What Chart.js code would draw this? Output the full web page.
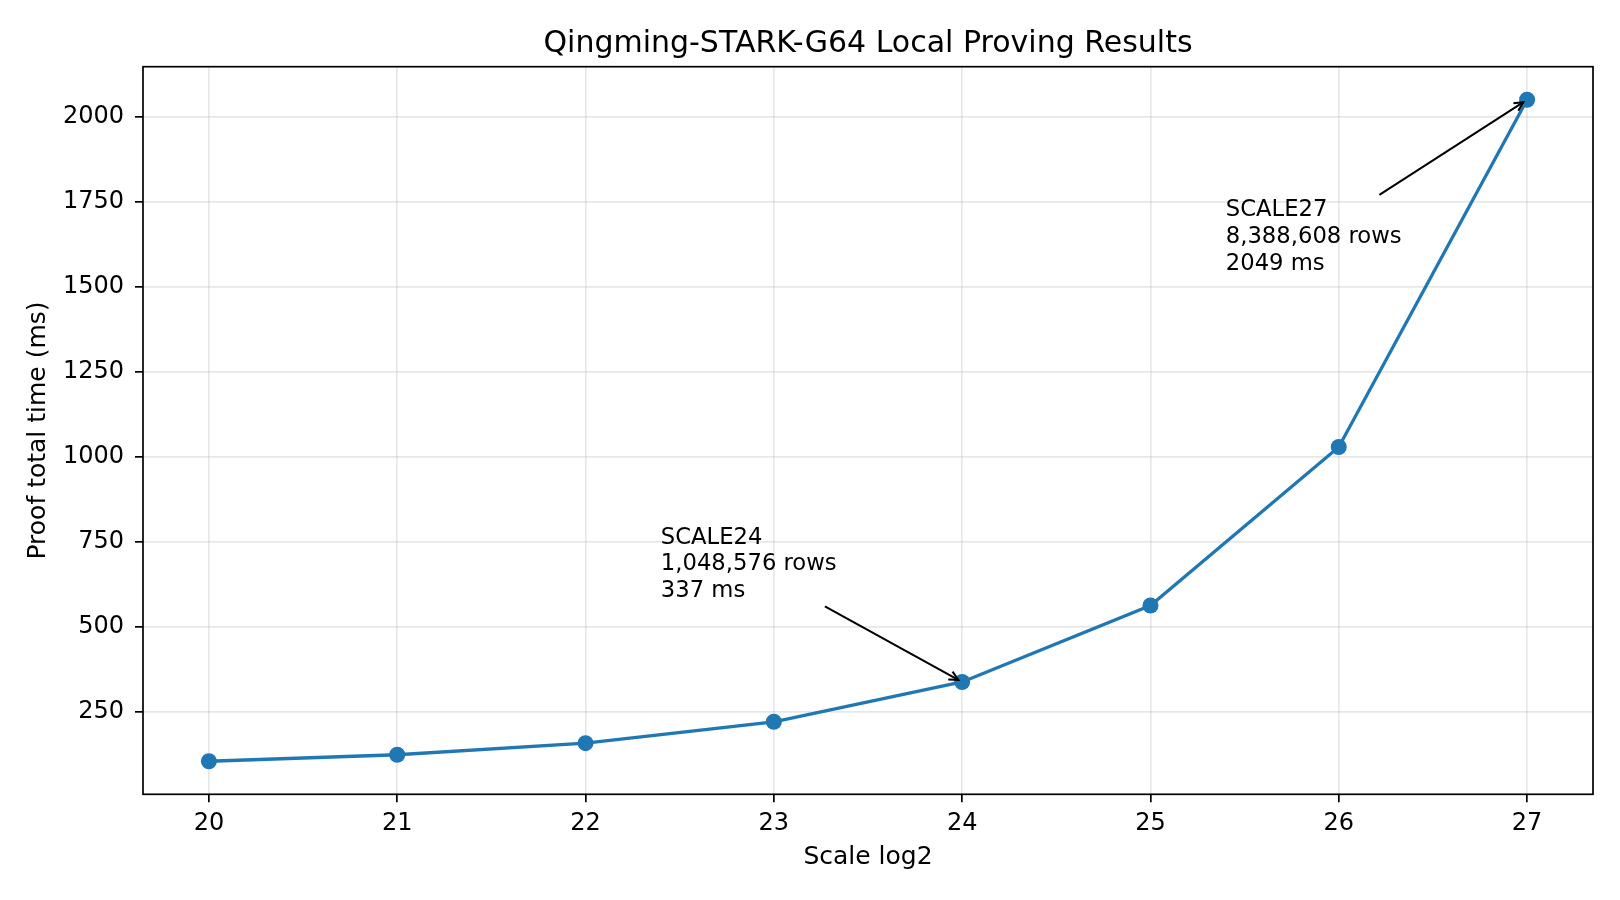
<!DOCTYPE html>
<html>
<head>
<meta charset="utf-8">
<title>Qingming-STARK-G64 Local Proving Results</title>
<script src="https://cdn.jsdelivr.net/npm/chart.js@4.4.1/dist/chart.umd.min.js"></script>
<style>
  html, body { margin: 0; padding: 0; background: #fff; }
  #wrap { width: 1620px; height: 900px; }
</style>
</head>
<body>
<div id="wrap"><canvas id="main-chart" width="1620" height="900"></canvas></div>
<script>
// data
const scaleLog2 = [20, 21, 22, 23, 24, 25, 26, 27];
const proofTimeMs = [104, 123, 157, 220, 337, 562, 1028, 2049];
const xTickValues = [20, 21, 22, 23, 24, 25, 26, 27];
const yTickValues = [250, 500, 750, 1000, 1250, 1500, 1750, 2000];
const noteScales = [24, 27];
const noteLabels = [
    ["SCALE24", "1,048,576 rows", "337 ms"],
    ["SCALE27", "8,388,608 rows", "2049 ms"]
];

const FONT = "DejaVu Sans";
const BLUE = "#1f77b4";
// where the note text sits, relative to its point (data units)
const noteOffsets = [{ dx: -1.6, dy: 250 }, { dx: -1.6, dy: -500 }];

// matplotlib style 5% margins
const padRange = (arr) => {
    let lo = Math.min(...arr), hi = Math.max(...arr);
    let m = (hi - lo) * 0.05;
    return [lo - m, hi + m];
};
const xRange = padRange(scaleLog2);
const yRange = padRange(proofTimeMs);

const drawArrow = (ctx, x0, y0, x1, y1) => {
    ctx.beginPath();
    ctx.moveTo(x0, y0);
    ctx.lineTo(x1, y1);
    ctx.stroke();
    let ang = Math.atan2(y1 - y0, x1 - x0);
    let hl = 9, hw = 4.5;
    let bx = x1 - hl * Math.cos(ang), by = y1 - hl * Math.sin(ang);
    ctx.beginPath();
    ctx.moveTo(bx + hw * Math.sin(ang), by - hw * Math.cos(ang));
    ctx.lineTo(x1, y1);
    ctx.lineTo(bx - hw * Math.sin(ang), by + hw * Math.cos(ang));
    ctx.stroke();
};

const notesAndFrame = {
    id: "notesAndFrame",
    afterDatasetsDraw(chart) {
        const ctx = chart.ctx;
        const xs = chart.scales.x, ys = chart.scales.y;
        ctx.save();
        ctx.font = "22.7px '" + FONT + "'";
        ctx.fillStyle = "#000";
        ctx.strokeStyle = "#000";
        ctx.lineWidth = 2;
        ctx.textBaseline = "alphabetic";
        ctx.textAlign = "left";
        const lh = 26.7;
        noteScales.forEach((sc, i) => {
            let idx = scaleLog2.indexOf(sc);
            let px = xs.getPixelForValue(sc), py = ys.getPixelForValue(proofTimeMs[idx]);
            let tx = xs.getPixelForValue(sc + noteOffsets[i].dx);
            let ty = ys.getPixelForValue(proofTimeMs[idx] + noteOffsets[i].dy);
            let lines = noteLabels[i];
            let w = 0;
            lines.forEach((t, k) => {
                let by = ty - lh * (lines.length - 1 - k);
                ctx.fillText(t, tx, by);
                w = Math.max(w, ctx.measureText(t).width);
            });
            // text box, grown by 2pt like matplotlib does
            let top = ty - lh * (lines.length - 1) - 17 - 2.2;
            let bot = ty + 5 + 2.2;
            let left = tx - 2.2, right = tx + w + 2.2;
            let cx = (tx + tx + w) / 2, cy = (top + bot) / 2;
            let dx = px - cx, dy = py - cy;
            let t = 1;
            if (dx > 0) t = Math.min(t, (right - cx) / dx);
            if (dx < 0) t = Math.min(t, (left - cx) / dx);
            if (dy > 0) t = Math.min(t, (bot - cy) / dy);
            if (dy < 0) t = Math.min(t, (top - cy) / dy);
            let len = Math.hypot(dx, dy);
            let ux = dx / len, uy = dy / len;
            let sx = cx + dx * t + ux * 4.4, sy = cy + dy * t + uy * 4.4;
            drawArrow(ctx, sx, sy, px - ux * 4.4, py - uy * 4.4);
        });
        ctx.restore();
    },
    afterDraw(chart) {
        const a = chart.chartArea, ctx = chart.ctx;
        ctx.save();
        ctx.strokeStyle = "#000";
        ctx.lineWidth = 1.7;
        ctx.strokeRect(a.left, a.top, a.right - a.left, a.bottom - a.top);
        ctx.restore();
    }
};

const tickFont = { family: FONT, size: 24 };
const labelFont = { family: FONT, size: 25 };

const mainChart = document.getElementById("main-chart").getContext("2d");
const chart = new Chart(mainChart, {
    type: "line",
    data: {
        datasets: [{
            label: "Proof total time (ms)",
            data: scaleLog2.map((s, i) => ({ x: s, y: proofTimeMs[i] })),
            borderColor: BLUE,
            backgroundColor: BLUE,
            borderWidth: 3.3,
            pointRadius: 8,
            pointHoverRadius: 8,
            pointBorderWidth: 0,
            tension: 0,
            clip: false
        }]
    },
    options: {
        responsive: false,
        devicePixelRatio: 1,
        animation: false,
        events: [],
        layout: { padding: { left: 0, right: 27, top: 0, bottom: 0 } },
        plugins: {
            legend: { display: false },
            tooltip: { enabled: false },
            title: {
                display: true,
                fullSize: false,
                text: "Qingming-STARK-G64 Local Proving Results",
                color: "#000",
                font: { family: FONT, size: 30, weight: "normal" },
                padding: { top: 26.3, bottom: 4.4 }
            }
        },
        scales: {
            x: {
                type: "linear",
                min: xRange[0],
                max: xRange[1],
                afterBuildTicks: (scale) => { scale.ticks = xTickValues.map(v => ({ value: v })); },
                afterFit: (scale) => { scale.height = 105.7; },
                ticks: { color: "#000", font: tickFont, padding: 6.7, maxRotation: 0, callback: (v) => String(v) },
                grid: { color: "rgba(176,176,176,0.3)", lineWidth: 1.7, tickColor: "#000", tickWidth: 1.7, tickLength: 8 },
                border: { display: false },
                title: { display: true, text: "Scale log2", color: "#000", font: labelFont, padding: { top: 0, bottom: 27.6 } }
            },
            y: {
                type: "linear",
                min: yRange[0],
                max: yRange[1],
                afterBuildTicks: (scale) => { scale.ticks = yTickValues.map(v => ({ value: v })); },
                afterFit: (scale) => { scale.width = 143; },
                ticks: { color: "#000", font: tickFont, padding: 11, callback: (v) => String(v) },
                grid: { color: "rgba(176,176,176,0.3)", lineWidth: 1.7, tickColor: "#000", tickWidth: 1.7, tickLength: 8 },
                border: { display: false },
                title: { display: true, text: "Proof total time (ms)", color: "#000", font: labelFont, padding: { top: 23, bottom: 0 } }
            }
        }
    },
    plugins: [notesAndFrame]
});
</script>
</body>
</html>
